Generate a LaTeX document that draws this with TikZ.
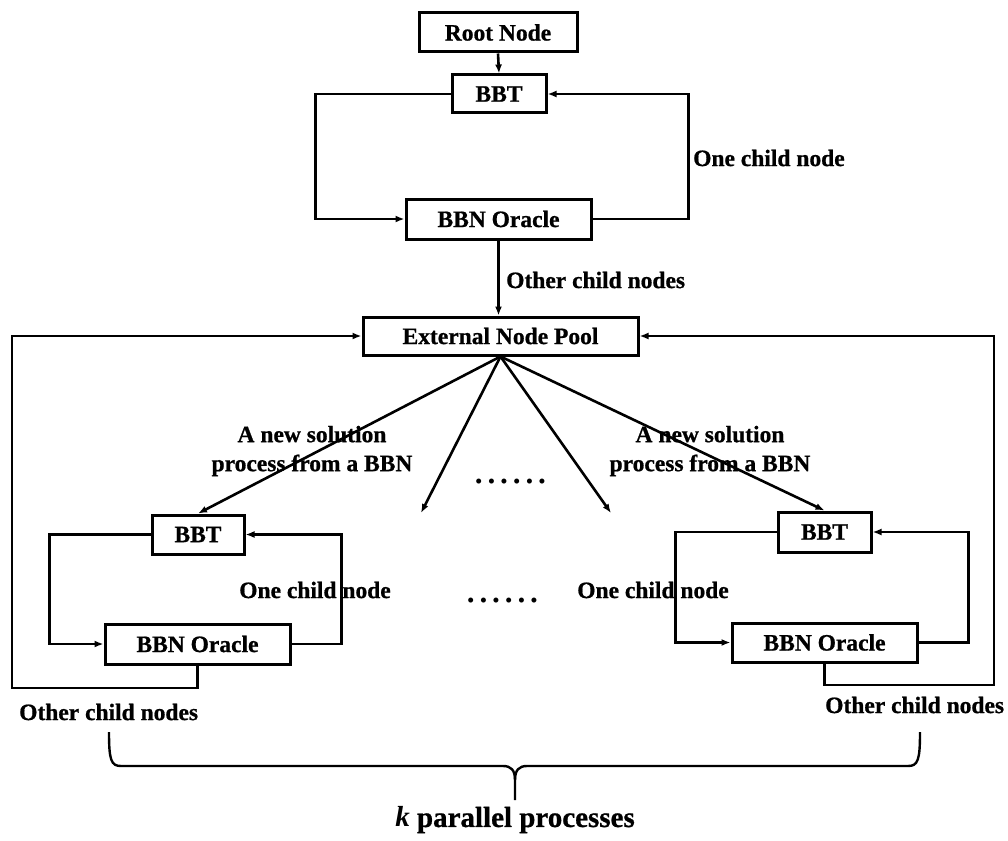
\documentclass[tikz,border=0pt]{standalone}
\usepackage{fontspec}
\setmainfont{Liberation Serif}[BoldFeatures={FakeBold=0.8}]
\usetikzlibrary{arrows.meta}
\newcommand{\sdots}{{\fontsize{21}{21}\selectfont •\hspace{5.3pt}•\hspace{5.3pt}•\hspace{5.3pt}•\hspace{5.3pt}•\hspace{5.3pt}•}}
\begin{document}
\begin{tikzpicture}[x=1pt,y=-1pt,
  box/.style={draw,line width=3pt,inner sep=0pt,font=\fontsize{23.5}{27}\selectfont\bfseries},
  lbl/.style={inner sep=0pt,font=\fontsize{23.5}{29}\selectfont\bfseries},
  arr/.style={line width=2.6pt,-{Latex[length=9pt,width=7pt]}},
  bracestyle/.style={line width=2.4pt}]
\useasboundingbox (0,0) rectangle (1008,840);
% top
\node[box,minimum width=158pt,minimum height=39pt] (root) at (498,32.5) {Root Node};
\node[box,minimum width=94pt,minimum height=38pt] (bbt) at (499,94) {BBT};
\node[box,minimum width=185pt,minimum height=40pt] (oracle) at (498.5,219) {BBN Oracle};
\node[box,minimum width=275pt,minimum height=38pt] (pool) at (500.5,336) {External Node Pool};
% left process
\node[box,minimum width=92pt,minimum height=39pt] (lbbt) at (198,534.5) {BBT};
\node[box,minimum width=185pt,minimum height=40pt] (loracle) at (197.5,644) {BBN Oracle};
% right process
\node[box,minimum width=93pt,minimum height=40pt] (rbbt) at (824.5,532) {BBT};
\node[box,minimum width=185pt,minimum height=39pt] (roracle) at (824.5,642.5) {BBN Oracle};

% top connectors
\draw[arr] (root.south) -- (bbt.north);
\draw[arr] (bbt.west) -- ++(-135,0) |- (oracle.west);
\draw[arr] (oracle.east) -- ++(96,0) |- (bbt.east);
\draw[arr] (oracle.south) -- (oracle.south |- pool.north);
\node[lbl,anchor=west] (l1) at (693,158) {One child node};
\node[lbl,anchor=west] (l2) at (506,280) {Other child nodes};

% outer return loops
\coordinate (lcorner) at (12,688);
\coordinate (rcorner) at (994,685);
\draw[arr] (loracle.south) |- (lcorner) |- (pool.west);
\draw[arr] (roracle.south) |- (rcorner) |- (pool.east);

% fan-out
\coordinate (m1) at (421,513);
\coordinate (m2) at (611,513);
\draw[arr] (pool.south) -- (lbbt.north);
\draw[arr] (pool.south) -- (m1);
\draw[arr] (pool.south) -- (m2);
\draw[arr] (pool.south) -- (rbbt.north);
\node[lbl,align=center] (l3) at (312,451) {A new solution\\process from a BBN};
\node[lbl,align=center] (l4) at (710,451) {A new solution\\process from a BBN};
\node[inner sep=0pt] (d1) at (510.5,484) {\sdots};
\node[inner sep=0pt] (d2) at (502.5,603) {\sdots};

% inner loops
\draw[arr] (lbbt.west) -- ++(-101,0) |- (loracle.west);
\draw[arr] (loracle.east) -- ++(50,0) |- (lbbt.east);
\draw[arr] (rbbt.west) -- ++(-101,0) |- (roracle.west);
\draw[arr] (roracle.east) -- ++(50,0) |- (rbbt.east);
\node[lbl] (l5) at (315,590) {One child node};
\node[lbl] (l6) at (653,590) {One child node};
\node[lbl,anchor=west] (l7) at (19,712) {Other child nodes};
\node[lbl,anchor=west] (l8) at (825,705) {Other child nodes};

% brace
\draw[bracestyle] (109,732) .. controls (109,760) and (111,766) .. (121,766) -- (503,766) .. controls (511,766) and (515,770) .. (515,780) -- (515,800);
\draw[bracestyle] (920,732) .. controls (920,760) and (918,766) .. (908,766) -- (527,766) .. controls (519,766) and (515,770) .. (515,780);
\node[inner sep=0pt,font=\fontsize{29}{33}\selectfont\bfseries] (k) at (515,820) {\textit{k} parallel processes};
\end{tikzpicture}
\end{document}
